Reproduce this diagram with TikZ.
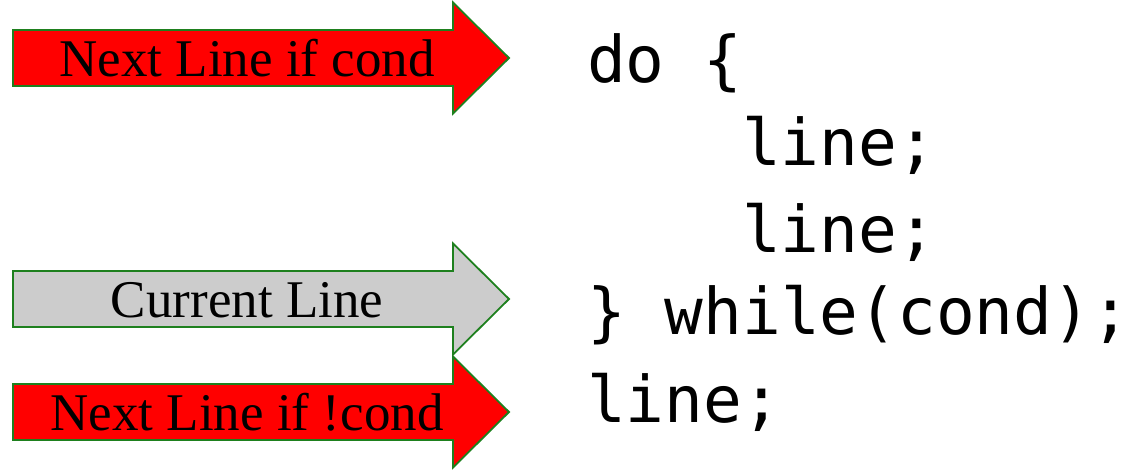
\documentclass[tikz,border=0pt]{standalone}
\usepackage{fontspec}
\setmainfont{Liberation Serif}
\newfontfamily\codefont{DejaVu Sans Mono}
\definecolor{rimgreen}{RGB}{30,128,30}
\begin{document}
\begin{tikzpicture}[x=1pt,y=-1pt,line join=miter,
	arrowbox/.style={draw=rimgreen,line width=1.8pt},
	arrowtext/.style={anchor=base,inner sep=0pt,font=\fontsize{53}{60}\selectfont},
	codeline/.style={anchor=base west,inner sep=0pt,font=\codefont\fontsize{64.4}{75}\selectfont}]
	\useasboundingbox (0,0) rectangle (1142,469);
	% y centre / fill / label / name
	\foreach \yc/\col/\txt/\nm in {58/red/{Next Line if cond}/nextif,
		299/gray!40/{Current Line}/current,
		412/red/{Next Line if !cond}/nextelse}{
		\filldraw[arrowbox,fill=\col] (13,\yc-28) -- (453,\yc-28) -- (453,\yc-55.5)
			-- (509,\yc) -- (453,\yc+55.5) -- (453,\yc+28) -- (13,\yc+28) -- cycle;
		\node[arrowtext] (\nm) at (247,\yc+18) {\txt};
	}
	\def\ind{155}
	\node[codeline] (cdo)    at (587,82)       {do \{};
	\node[codeline] (cline1) at (587+\ind,165) {line;};
	\node[codeline] (cline2) at (587+\ind,252) {line;};
	\node[codeline] (cwhile) at (587,334)      {\} while(cond);};
	\node[codeline] (cafter) at (587,422)      {line;};
\end{tikzpicture}
\end{document}
